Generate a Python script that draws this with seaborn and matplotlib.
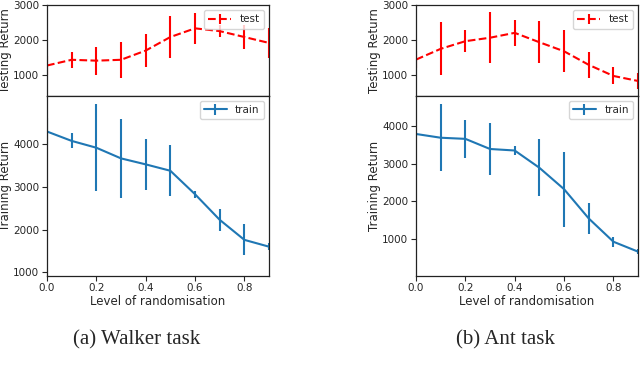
import numpy as np
import seaborn as sns
import matplotlib.pyplot as plt

# levels of randomisation
levels = [0.0, 0.1, 0.2, 0.3, 0.4, 0.5, 0.6, 0.7, 0.8, 0.9]

# Walker task
walker_test = [1260, 1425, 1400, 1425, 1690, 2080, 2330, 2250, 2080, 1910]
walker_test_err = [260, 230, 400, 520, 475, 615, 450, 175, 355, 425]
walker_train = [4300, 4080, 3920, 3670, 3530, 3380, 2830, 2230, 1760, 1600]
walker_train_err = [310, 175, 1020, 920, 605, 595, 80, 255, 365, 80]

# Ant task
ant_test = [1430, 1740, 1960, 2060, 2200, 1930, 1670, 1280, 960, 815]
ant_test_err = [250, 765, 310, 730, 380, 605, 605, 370, 245, 220]
ant_train = [3790, 3690, 3660, 3390, 3350, 2890, 2320, 1540, 920, 655]
ant_train_err = [60, 895, 510, 695, 120, 755, 1000, 420, 135, 60]

sns.set_style("ticks")
plt.rcParams['font.family'] = ['DejaVu Sans']

fig = plt.figure(figsize=(6.4, 3.77), dpi=100)

panels = [
    (0.0734, walker_test, walker_test_err, walker_train, walker_train_err, (920, 5140), '(a) Walker task', 137),
    (0.650, ant_test, ant_test_err, ant_train, ant_train_err, (15, 4810), '(b) Ant task', 505),
]

for left, test, test_err, train, train_err, train_lim, caption, cap_x in panels:
    ax_top = fig.add_axes([left, 0.746, 0.347, 0.2406])
    ax_bot = fig.add_axes([left, 0.2687, 0.347, 0.4775], sharex=ax_top)

    ax_top.errorbar(levels, test, yerr=test_err, fmt='--', color='red', lw=1.5, label='test')
    ax_bot.errorbar(levels, train, yerr=train_err, fmt='-', color='#1f77b4', lw=1.5, label='train')

    ax_top.set_xlim(0, 0.9)
    ax_top.set_ylim(390, 3000)
    ax_top.set_yticks([1000, 2000, 3000])
    ax_top.tick_params(axis='x', bottom=False, labelbottom=False)
    ax_bot.set_ylim(*train_lim)
    ax_bot.set_yticks([1000, 2000, 3000, 4000])
    ax_bot.set_xticks([0.0, 0.2, 0.4, 0.6, 0.8])

    for ax in (ax_top, ax_bot):
        ax.tick_params(labelsize=7.5, length=3.5, width=0.8, pad=2)
        for s in ax.spines.values():
            s.set_visible(True)
            s.set_color('#222222')
            s.set_linewidth(0.9)
        ax.legend(loc='upper right', fontsize=7.5, handlelength=2.2,
                  borderpad=0.4, framealpha=0.8)

    ax_top.set_ylabel('Testing Return', fontsize=8.5, labelpad=1)
    ax_bot.set_ylabel('Training Return', fontsize=8.5, labelpad=1)
    ax_bot.set_xlabel('Level of randomisation', fontsize=8.5, labelpad=1)

    fig.text(cap_x / 640, 1 - 340 / 377, caption, ha='center', va='center',
             fontsize=15, family='Liberation Serif')

fig.savefig('out.png', dpi=100)
